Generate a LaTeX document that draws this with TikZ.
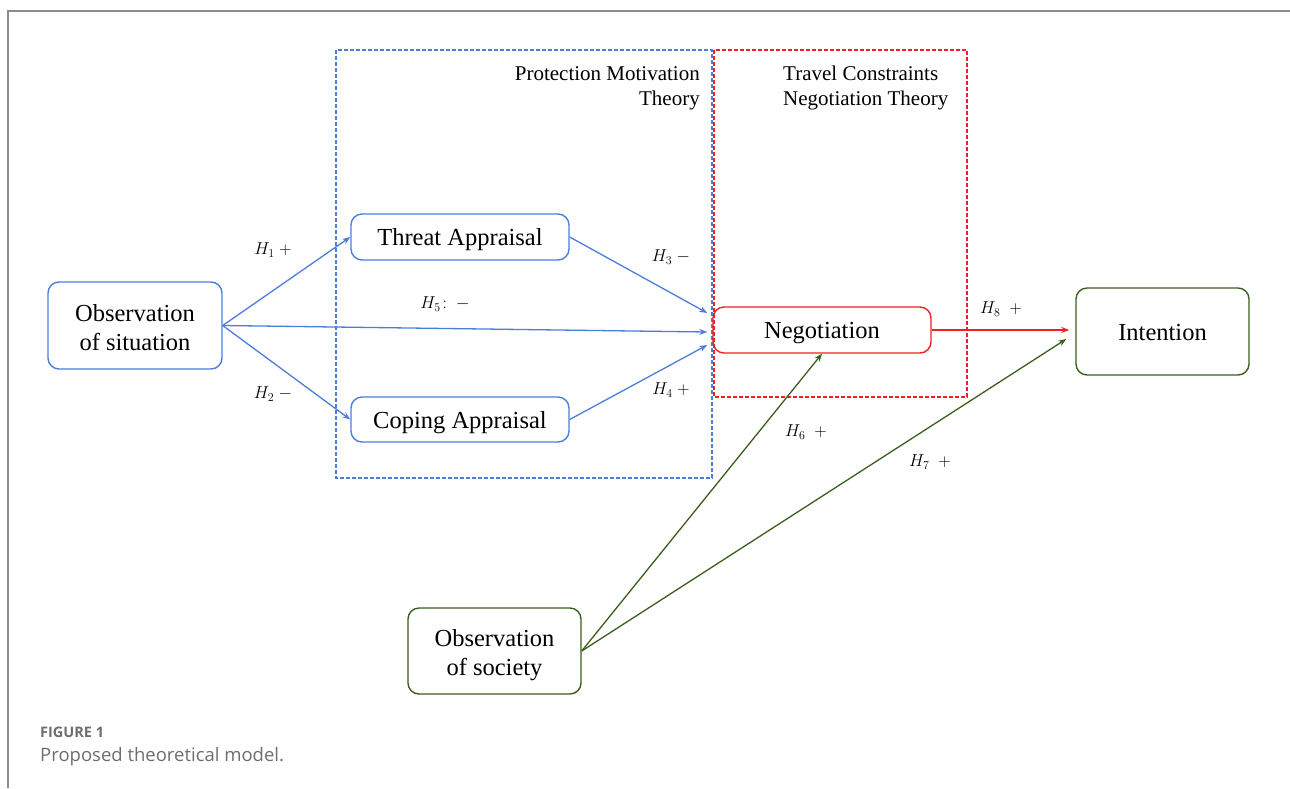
\documentclass[tikz,border=0pt]{standalone}
\usepackage{fontspec}
\setmainfont{Liberation Serif}
\newfontfamily\capfont{Open Sans}
\usetikzlibrary{arrows.meta}
\definecolor{cblue}{RGB}{74,126,216}
\definecolor{cred}{RGB}{240,32,32}
\definecolor{cgreen}{RGB}{58,94,28}
\definecolor{cframe}{RGB}{140,140,140}
\definecolor{ccap}{RGB}{110,110,110}
\begin{document}
\begin{tikzpicture}[x=1pt,y=-1pt,
  box/.style={rounded corners=11pt, line width=1.4pt, inner sep=0pt, text=black,
    font=\fontsize{24.5}{29}\selectfont, align=center, text depth=6pt, text height=23pt},
  twoline/.style={text height=55pt},
  bbox/.style={box, draw=cblue},
  rbox/.style={box, draw=cred},
  gbox/.style={box, draw=cgreen},
  tip/.style={-{Stealth[length=8pt,width=6pt]}, line width=1.3pt},
  barrow/.style={tip, cblue},
  rarrow/.style={tip, cred},
  garrow/.style={tip, cgreen},
  frameline/.style={dashed, dash pattern=on 4pt off 2pt, line width=1.2pt},
  title/.style={font=\fontsize{21}{25}\selectfont, inner sep=0pt},
  lab/.style={font=\fontsize{17.5}{20}\selectfont, inner sep=0pt}
]
\useasboundingbox (0,0) rectangle (1290,788);
\draw[cframe, line width=2pt] (8,788) -- (8,11) -- (1290,11);

% theory frames
\draw[cblue, frameline] (336,50) rectangle (712,478);
\draw[cred, frameline] (714,50) rectangle (967,397);
\node[title, anchor=north east, align=right] (pmt) at (700,66) {Protection Motivation\\Theory};
\node[title, anchor=north west, align=left] (tcnt) at (783,66) {Travel Constraints\\Negotiation Theory};

% nodes
\node[bbox, twoline, minimum width=174pt, minimum height=87pt] (obs) at (135,325.5) {Observation\\of situation};
\node[bbox, minimum width=218pt, minimum height=46pt] (ta) at (460,237) {Threat Appraisal};
\node[bbox, minimum width=218pt, minimum height=45pt] (ca) at (460,419.5) {Coping Appraisal};
\node[rbox, minimum width=218pt, minimum height=46pt] (neg) at (822,330) {Negotiation};
\node[gbox, minimum width=173pt, minimum height=87pt] (int) at (1162.5,331.5) {Intention};
\node[gbox, twoline, minimum width=173pt, minimum height=86pt] (soc) at (494.5,651) {Observation\\of society};

% connectors
\draw[barrow] (obs.east) -- (ta.west);
\draw[barrow] (obs.east) -- (ca.west);
\draw[barrow] (obs.east) -- ([xshift=-5pt,yshift=-2pt]neg.west);
\draw[barrow] (ta.east) -- ([xshift=-5pt,yshift=17pt]neg.west);
\draw[barrow] (ca.east) -- ([xshift=-5pt,yshift=-15pt]neg.west);
\draw[rarrow] (neg.east) -- ([xshift=-6pt]neg.east -| int.west);
\draw[garrow] (soc.east) -- (neg.south);
\draw[garrow] (soc.east) -- ([xshift=-9pt,yshift=-7.5pt]int.west);

% labels
\node[lab] (h1) at (273,250) {$H_1\ +$};
\node[lab] (h2) at (273,394) {$H_2\ -$};
\node[lab] (h3) at (671,257) {$H_3\ -$};
\node[lab] (h4) at (671,390) {$H_4\ +$};
\node[lab] (h5) at (445,304) {$H_5\!:\ -$};
\node[lab] (h6) at (806,432) {$H_6\ \ +$};
\node[lab] (h7) at (930,462) {$H_7\ \ +$};
\node[lab] (h8) at (1001,309) {$H_8\ \ +$};

% caption
\node[anchor=base west, inner sep=0pt, text=ccap, font=\capfont\bfseries\fontsize{14.5}{17}\selectfont] (fig) at (40,737) {FIGURE 1};
\node[anchor=base west, inner sep=0pt, text=ccap, font=\capfont\fontsize{18.5}{21}\selectfont] (cap) at (40,761) {Proposed theoretical model.};
\end{tikzpicture}
\end{document}
